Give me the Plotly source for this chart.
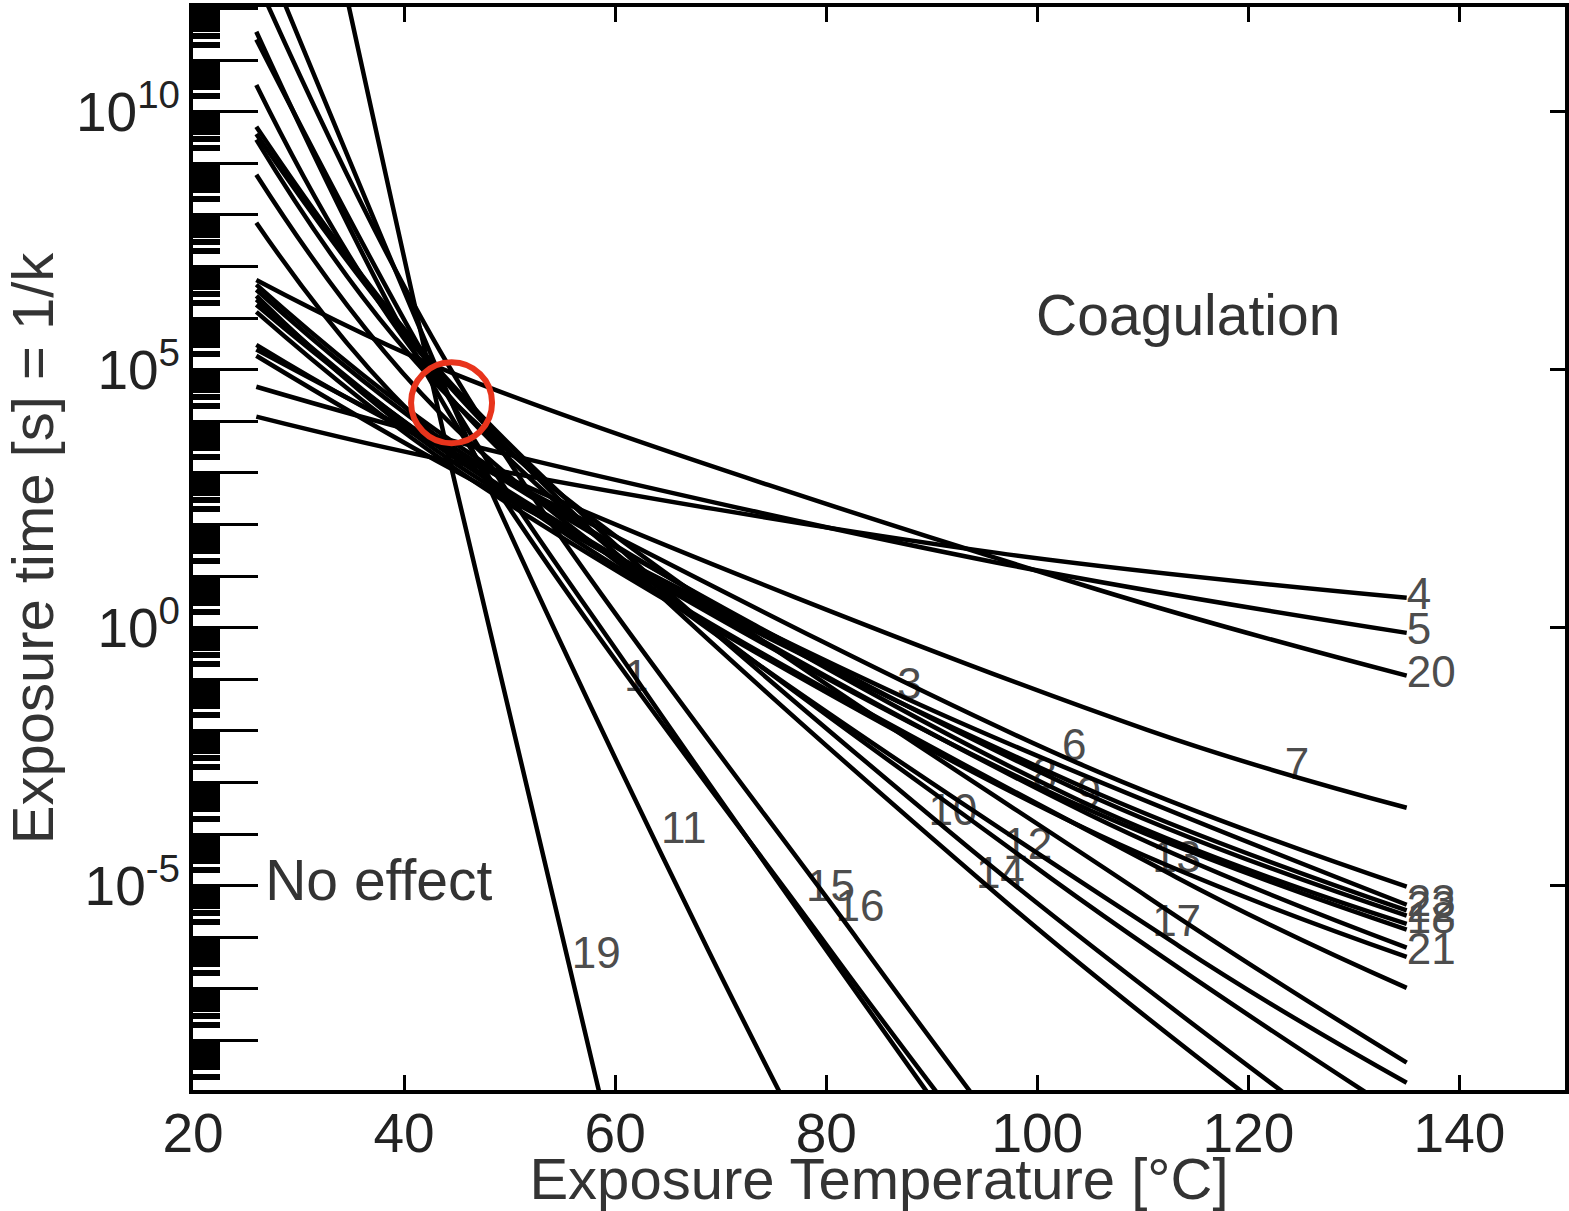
import plotly.graph_objects as go

# ---------------- data ----------------
# Each curve: temperatures [°C] and log10(exposure time [s]) of points read along it
LINE_IDS = ["1", "2", "3", "4", "5", "6", "7", "8", "9", "10", "11", "12",
            "13", "14", "15", "16", "17", "18", "19", "20", "21", "22", "23"]
LINE_T = [
    [26, 45, 62.5, 90.6],          # 1
    [26, 45, 110.4, 135],          # 2
    [26, 45, 87.9, 135],           # 3
    [26, 45, 96.2, 135],           # 4
    [26, 45, 96.2, 135],           # 5
    [26, 45, 103.8, 135],          # 6
    [26, 45, 110.4, 135],          # 7
    [26, 45, 100.7, 135],          # 8
    [26, 45, 104.9, 135],          # 9
    [26, 45, 92.0, 129.3],         # 10
    [26, 45, 54.7, 68.8, 77.4],    # 11
    [26, 45, 99.1, 135],           # 12
    [26, 45, 113.2, 135],          # 13
    [26, 45, 96.2, 124.6],         # 14
    [26, 45, 80.0, 92.5],          # 15
    [26, 45, 83.0, 96.2],          # 16
    [26, 45, 113.5, 135],          # 17
    [26, 45, 103.8, 135],          # 18
    [33.9, 44.6, 59.4],            # 19
    [26, 45, 105.7, 135],          # 20
    [26, 45, 103.8, 135],          # 21
    [26, 45, 103.8, 135],          # 22
    [26, 45, 103.8, 135],          # 23
]
LINE_LOGT = [
    [11.40, 4.19, -1.14, -9.30],   # 1
    [9.46, 4.32, -5.21, -8.43],    # 2
    [5.27, 3.02, -1.40, -5.37],    # 3
    [4.09, 3.20, 1.45, 0.58],      # 4
    [4.67, 3.60, 1.26, -0.10],     # 5
    [5.39, 3.35, -2.62, -5.02],    # 6
    [5.48, 3.35, -1.98, -3.49],    # 7
    [6.36, 3.26, -3.14, -5.85],    # 8
    [6.26, 3.29, -3.62, -6.20],    # 9
    [9.71, 4.61, -4.01, -9.92],    # 10
    [13.43, 4.13, -0.23, -6.24, -9.73],  # 11
    [10.52, 4.32, -4.53, -9.52],   # 12
    [7.85, 3.35, -4.84, -6.98],    # 13
    [9.57, 4.52, -5.17, -9.81],    # 14
    [11.55, 3.91, -6.14, -9.55],   # 15
    [12.56, 4.81, -6.05, -9.69],   # 16
    [8.78, 3.84, -6.18, -8.82],    # 17
    [6.65, 3.55, -3.33, -5.74],    # 18
    [12.85, 3.00, -9.79],          # 19
    [6.74, 4.90, 0.74, -0.93],     # 20
    [6.12, 3.06, -3.82, -6.38],    # 21
    [6.43, 3.16, -3.04, -5.48],    # 22
    [6.55, 3.45, -3.14, -5.58],    # 23
]

# curve labels placed inside the plot
INNER_LABELS = ["1", "3", "6", "7", "8", "9", "10", "11", "12", "13", "14", "15", "16", "17", "19"]
INNER_LABEL_T = [62.0, 87.9, 103.5, 124.6, 100.7, 104.9, 92.0, 66.5, 99.1, 113.2, 96.5, 80.4, 83.2, 113.2, 58.2]
INNER_LABEL_LOGT = [-1.01, -1.16, -2.36, -2.71, -2.91, -3.28, -3.62, -3.95, -4.26, -4.53, -4.83, -5.08, -5.47, -5.76, -6.38]

# curve labels at the right-hand ends
END_LABELS = ["4", "5", "20", "23", "22", "18", "21"]
END_LABEL_T = [135, 135, 135, 135, 135, 135, 135]
END_LABEL_LOGT = [0.58, -0.10, -0.93, -5.37, -5.50, -5.70, -6.30]

# region annotations
REGION_TEXT = ["Coagulation", "No effect"]
REGION_T = [114.3, 37.6]
REGION_LOGT = [5.95, -5.0]

# highlighted crossing (red ring)
RING_T = [44.5]
RING_LOGT = [4.36]

X_TICKS = [20, 40, 60, 80, 100, 120, 140]
Y_DECADES = list(range(-9, 13))
Y_LABEL_EXP = [-5, 0, 5, 10]
Y_LABEL_TEXT = ["10<sup>-5</sup>", "10<sup>0</sup>", "10<sup>5</sup>", "10<sup>10</sup>"]
Y_RANGE_LOG = [-8.96, 12.03]
X_RANGE = [20, 150]

FONT = "Liberation Sans, Arial, Helvetica, sans-serif"

fig = go.Figure()

# labels first so that the curves are drawn over them
fig.add_trace(go.Scatter(
    x=INNER_LABEL_T, y=[10 ** v for v in INNER_LABEL_LOGT], mode="text",
    text=INNER_LABELS, textposition="middle center",
    textfont=dict(family=FONT, size=44, color="#4d4d4d"),
    hoverinfo="skip", showlegend=False))
fig.add_trace(go.Scatter(
    x=END_LABEL_T, y=[10 ** v for v in END_LABEL_LOGT], mode="text",
    text=END_LABELS, textposition="middle right",
    textfont=dict(family=FONT, size=44, color="#4d4d4d"),
    hoverinfo="skip", showlegend=False))
fig.add_trace(go.Scatter(
    x=REGION_T, y=[10 ** v for v in REGION_LOGT], mode="text",
    text=REGION_TEXT, textposition="middle center",
    textfont=dict(family=FONT, size=57, color="#333333"),
    hoverinfo="skip", showlegend=False))

for lid, ts, ls in zip(LINE_IDS, LINE_T, LINE_LOGT):
    fig.add_trace(go.Scatter(
        x=ts, y=[10 ** v for v in ls], mode="lines", name=lid,
        line=dict(color="black", width=4.5, shape="spline", smoothing=1.0),
        showlegend=False, hoverinfo="skip"))

fig.add_trace(go.Scatter(
    x=RING_T, y=[10 ** v for v in RING_LOGT], mode="markers",
    marker=dict(symbol="circle-open", size=81, color="#e8341c",
                line=dict(width=6, color="#e8341c")),
    showlegend=False, hoverinfo="skip"))

# invisible traces carrying the extra tick axes (top / right / unlabelled decades)
fig.add_trace(go.Scatter(x=[50], y=[1], xaxis="x2", yaxis="y2", mode="markers",
                         marker=dict(size=1, opacity=0), showlegend=False, hoverinfo="skip"))
fig.add_trace(go.Scatter(x=[50], y=[1], xaxis="x", yaxis="y3", mode="markers",
                         marker=dict(size=1, opacity=0), showlegend=False, hoverinfo="skip"))

minor_vals = [m * 10.0 ** k for k in range(-10, 13) for m in range(2, 10)]

fig.update_layout(
    width=1569, height=1211,
    margin=dict(l=193, r=4, t=7, b=121, autoexpand=False),
    paper_bgcolor="white", plot_bgcolor="white",
    font=dict(family=FONT, color="#222222"),
    xaxis=dict(
        range=X_RANGE, tickmode="array", tickvals=X_TICKS,
        ticks="inside", ticklen=15, tickwidth=3, tickcolor="black",
        showline=True, linewidth=4, linecolor="black", mirror=True,
        showgrid=False, zeroline=False,
        tickfont=dict(size=55, family=FONT, color="#222222"),
        ticklabelstandoff=-8,
        title=dict(text="Exposure Temperature [°C]", standoff=0,
                   font=dict(size=58, family=FONT, color="#333333")),
        automargin=False,
    ),
    yaxis=dict(
        type="log", range=Y_RANGE_LOG, tickmode="array",
        tickvals=[10.0 ** k for k in Y_LABEL_EXP], ticktext=Y_LABEL_TEXT,
        ticks="inside", ticklen=65, tickwidth=3, tickcolor="black",
        showline=True, linewidth=4, linecolor="black", mirror=True,
        showgrid=False, zeroline=False,
        tickfont=dict(size=55, family=FONT, color="#222222"),
        ticklabelstandoff=-2,
        title=dict(text="Exposure time [s] = 1/k", standoff=14,
                   font=dict(size=58, family=FONT, color="#333333")),
        automargin=False,
    ),
    yaxis3=dict(
        overlaying="y", side="left", type="log", range=Y_RANGE_LOG, tickmode="array",
        tickvals=[10.0 ** k for k in Y_DECADES],
        ticks="inside", ticklen=65, tickwidth=3, tickcolor="black",
        minor=dict(tickmode="array", tickvals=minor_vals, ticks="inside",
                   ticklen=27, tickwidth=6, tickcolor="black", showgrid=False),
        showticklabels=False, showline=False, showgrid=False, zeroline=False,
    ),
    xaxis2=dict(
        overlaying="x", side="top", range=X_RANGE, tickmode="array", tickvals=X_TICKS,
        ticks="inside", ticklen=15, tickwidth=3, tickcolor="black",
        showticklabels=False, showline=False, showgrid=False, zeroline=False,
    ),
    yaxis2=dict(
        overlaying="y", side="right", type="log", range=Y_RANGE_LOG, tickmode="array",
        tickvals=[1e-5, 1e0, 1e5, 1e10],
        ticks="inside", ticklen=15, tickwidth=3, tickcolor="black",
        showticklabels=False, showline=False, showgrid=False, zeroline=False,
    ),
)

fig.write_html("out.html")
